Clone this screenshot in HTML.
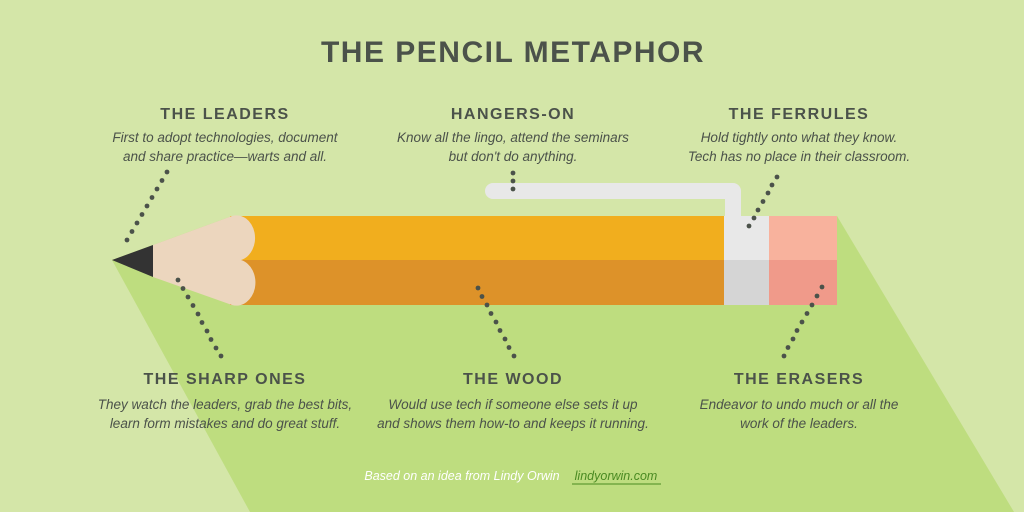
<!DOCTYPE html>
<html><head><meta charset="utf-8"><style>
html,body{margin:0;padding:0;background:#d4e6a8;}
svg{display:block}
.h{font-family:"Liberation Sans",sans-serif;font-weight:bold;font-size:16px;letter-spacing:1.5px;fill:#4b524a;text-anchor:middle}
.b{font-family:"Liberation Sans",sans-serif;font-style:italic;font-size:13.5px;fill:#4b524a;text-anchor:middle}
</style></head><body>
<svg width="1024" height="512" viewBox="0 0 1024 512" xmlns="http://www.w3.org/2000/svg">
<rect width="1024" height="512" fill="#d4e6a8"/>
<polygon points="112,260 232,216 837,216 1014,512 250,512" fill="#bedd7f"/>
<text x="513" y="62" font-family="Liberation Sans,sans-serif" font-weight="bold" font-size="30" letter-spacing="1.5" fill="#4b524a" text-anchor="middle">THE PENCIL METAPHOR</text>
<path d="M493,191 H733 V218" fill="none" stroke="#e8e8e8" stroke-width="16" stroke-linejoin="round" stroke-linecap="round"/>
<rect x="230" y="216" width="494" height="44" fill="#f1ae1e"/>
<rect x="230" y="260" width="494" height="45" fill="#dd9229"/>
<rect x="724" y="216" width="45" height="44" fill="#e8e8e8"/>
<rect x="724" y="260" width="45" height="45" fill="#d5d5d5"/>
<rect x="769" y="216" width="68" height="44" fill="#f8b29d"/>
<rect x="769" y="260" width="68" height="45" fill="#f09a8a"/>
<path d="M153,245 L232,216 A18,22 0 0 1 241,260 A18,22 0 0 1 232,305 L153,277 Z" fill="#ecd6be"/>
<polygon points="112,260 153,245 153,277" fill="#333333"/>
<g fill="#4b524a">
<circle cx="167" cy="172" r="2.4"/><circle cx="162" cy="180.5" r="2.4"/><circle cx="157" cy="189" r="2.4"/><circle cx="152" cy="197.5" r="2.4"/><circle cx="147" cy="206" r="2.4"/><circle cx="142" cy="214.5" r="2.4"/><circle cx="137" cy="223" r="2.4"/><circle cx="132" cy="231.5" r="2.4"/><circle cx="127" cy="240" r="2.4"/>
<circle cx="178" cy="280" r="2.4"/><circle cx="183" cy="288.5" r="2.4"/><circle cx="188" cy="297" r="2.4"/><circle cx="193" cy="305.5" r="2.4"/><circle cx="198" cy="314" r="2.4"/><circle cx="202" cy="322.5" r="2.4"/><circle cx="207" cy="331" r="2.4"/><circle cx="211" cy="339.5" r="2.4"/><circle cx="216" cy="348" r="2.4"/><circle cx="221" cy="356" r="2.4"/>
<circle cx="513" cy="173" r="2.4"/><circle cx="513" cy="181" r="2.4"/><circle cx="513" cy="189" r="2.4"/>
<circle cx="478" cy="288" r="2.4"/><circle cx="482" cy="296.5" r="2.4"/><circle cx="487" cy="305" r="2.4"/><circle cx="491" cy="313.5" r="2.4"/><circle cx="496" cy="322" r="2.4"/><circle cx="500" cy="330.5" r="2.4"/><circle cx="505" cy="339" r="2.4"/><circle cx="509" cy="347.5" r="2.4"/><circle cx="514" cy="356" r="2.4"/>
<circle cx="777" cy="177" r="2.4"/><circle cx="772" cy="185" r="2.4"/><circle cx="768" cy="193" r="2.4"/><circle cx="763" cy="201.5" r="2.4"/><circle cx="758" cy="210" r="2.4"/><circle cx="754" cy="218" r="2.4"/><circle cx="749" cy="226" r="2.4"/>
<circle cx="822" cy="287" r="2.4"/><circle cx="817" cy="296" r="2.4"/><circle cx="812" cy="305" r="2.4"/><circle cx="807" cy="313.5" r="2.4"/><circle cx="802" cy="322" r="2.4"/><circle cx="797" cy="330.5" r="2.4"/><circle cx="793" cy="339" r="2.4"/><circle cx="788" cy="347.5" r="2.4"/><circle cx="784" cy="356" r="2.4"/>
</g>
<text class="h" x="225" y="119">THE LEADERS</text>
<text class="b" x="225" y="142">First to adopt technologies, document</text>
<text class="b" x="225" y="161">and share practice—warts and all.</text>
<text class="h" x="513" y="119">HANGERS-ON</text>
<text class="b" x="513" y="142">Know all the lingo, attend the seminars</text>
<text class="b" x="513" y="161">but don't do anything.</text>
<text class="h" x="799" y="119">THE FERRULES</text>
<text class="b" x="799" y="142">Hold tightly onto what they know.</text>
<text class="b" x="799" y="161">Tech has no place in their classroom.</text>
<text class="h" x="225" y="384">THE SHARP ONES</text>
<text class="b" x="225" y="409">They watch the leaders, grab the best bits,</text>
<text class="b" x="225" y="428">learn form mistakes and do great stuff.</text>
<text class="h" x="513" y="384">THE WOOD</text>
<text class="b" x="513" y="409">Would use tech if someone else sets it up</text>
<text class="b" x="513" y="428">and shows them how-to and keeps it running.</text>
<text class="h" x="799" y="384">THE ERASERS</text>
<text class="b" x="799" y="409">Endeavor to undo much or all the</text>
<text class="b" x="799" y="428">work of the leaders.</text>
<text x="462" y="480" font-family="Liberation Sans,sans-serif" font-style="italic" font-size="12.5" fill="#ffffff" text-anchor="middle">Based on an idea from Lindy Orwin</text>
<text x="616" y="480" font-family="Liberation Sans,sans-serif" font-style="italic" font-size="12.5" fill="#4a8a22" text-anchor="middle">lindyorwin.com</text>
<line x1="572" y1="484" x2="661" y2="484" stroke="#4a8a22" stroke-width="1"/>
</svg>
</body></html>
